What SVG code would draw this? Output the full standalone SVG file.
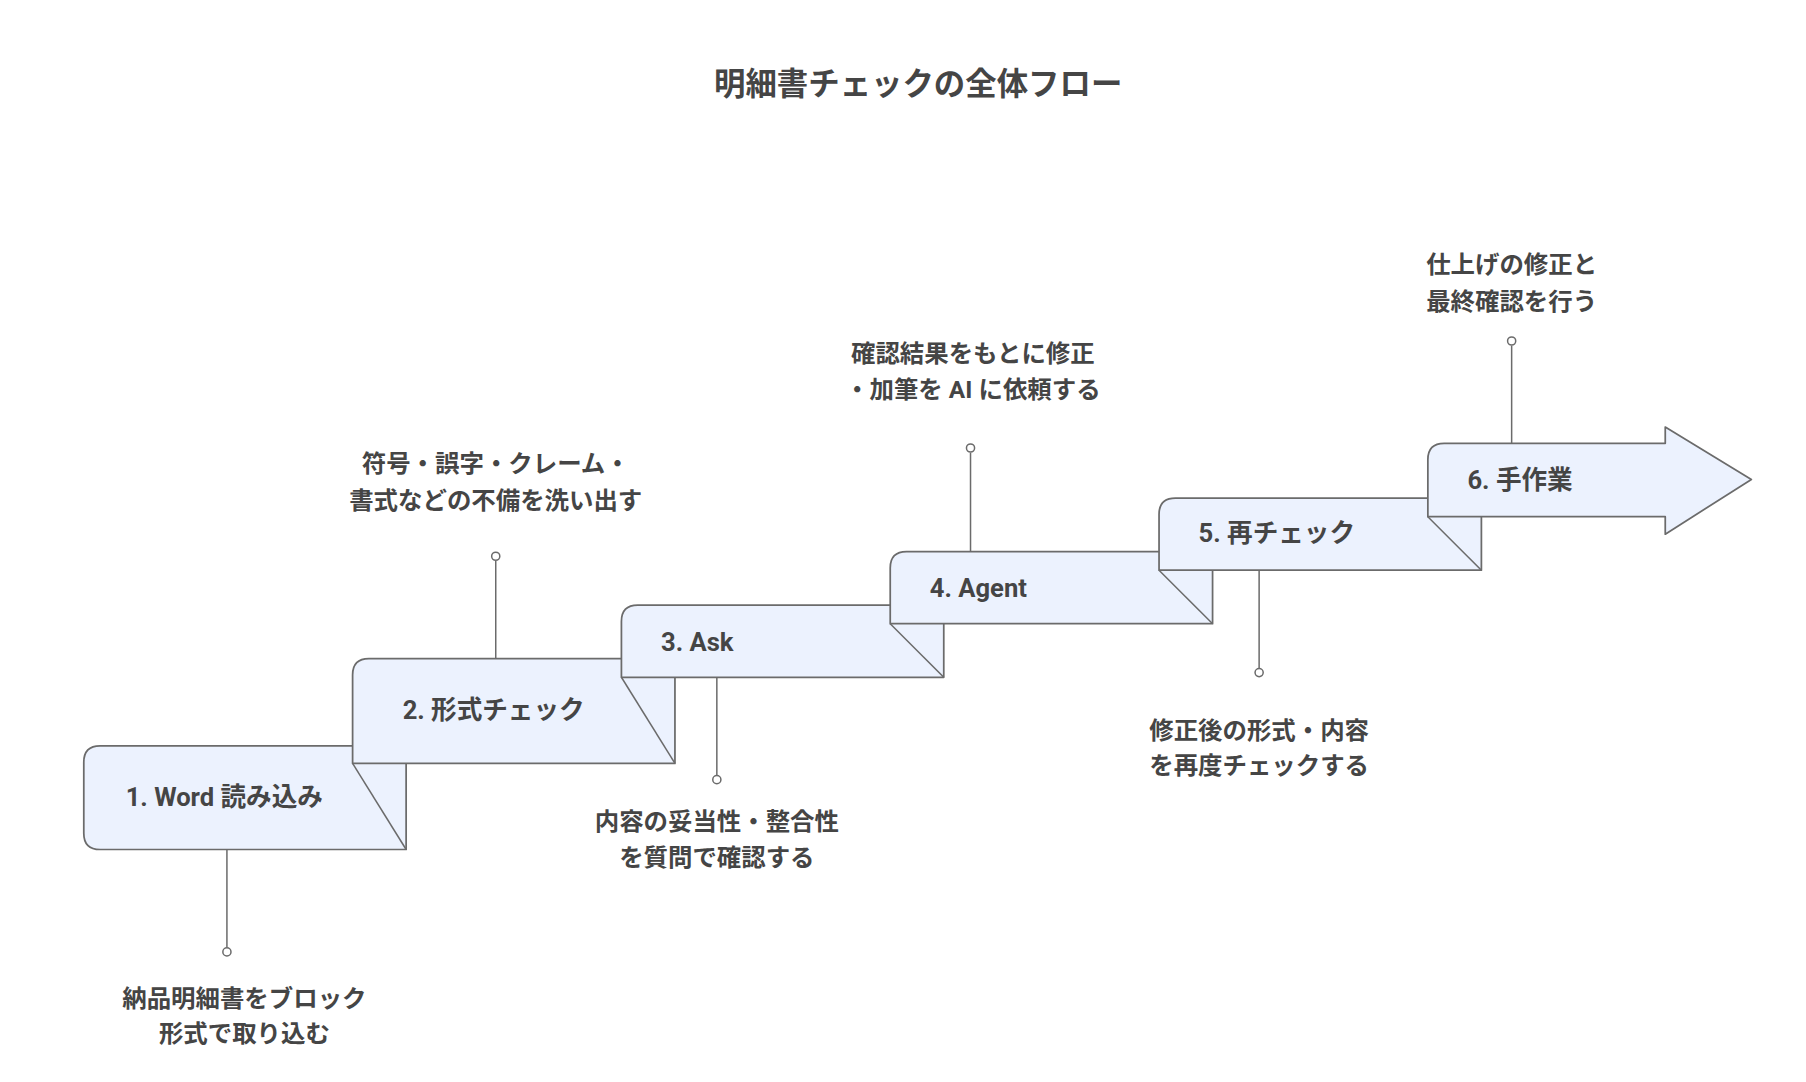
<svg xmlns="http://www.w3.org/2000/svg" width="1806" height="1082" viewBox="0 0 1806 1082">
<style>
.box{fill:#ecf2fe;stroke:#6b6b6b;stroke-width:1.5;stroke-linejoin:round}
.t{font-family:"Roboto","Noto Sans CJK JP",sans-serif;font-weight:bold;fill:#454545}
.n{font-size:22px}
.l{font-size:21px;text-anchor:middle}
.c{stroke:#6b6b6b;stroke-width:1.3;fill:none}
.d{fill:#fff;stroke:#6b6b6b;stroke-width:1.3}
</style>
<rect width="1806" height="1082" fill="#fff"/>
<g transform="scale(1.1637)">
<text class="t" x="789" y="82" font-size="27" text-anchor="middle">明細書チェックの全体フロー</text>
<g id="n1"><path class="box" d="M303,641H86Q72,641 72,655V716Q72,730 86,730H349V656"/><line class="c" x1="303" y1="656" x2="349" y2="730"/><text class="t n" x="108" y="693">1. Word 読み込み</text></g>
<g id="n2"><path class="box" d="M534,566H317Q303,566 303,580V656H580V582"/><line class="c" x1="534" y1="582" x2="580" y2="656"/><text class="t n" x="346" y="618">2. 形式チェック</text></g>
<g id="n3"><path class="box" d="M765,520H548Q534,520 534,534V582H811V536"/><line class="c" x1="765" y1="536" x2="811" y2="582"/><text class="t n" x="568" y="559">3. Ask</text></g>
<g id="n4"><path class="box" d="M996,474H779Q765,474 765,488V536H1042V490"/><line class="c" x1="996" y1="490" x2="1042" y2="536"/><text class="t n" x="799" y="513">4. Agent</text></g>
<g id="n5"><path class="box" d="M1227,428H1010Q996,428 996,442V490H1273V444"/><line class="c" x1="1227" y1="444" x2="1273" y2="490"/><text class="t n" x="1030" y="466">5. 再チェック</text></g>
<g id="n6"><path class="box" d="M1431,381H1241Q1227,381 1227,395V444H1431V459L1505,412L1431,367Z"/><text class="t n" x="1261" y="420">6. 手作業</text></g>
<g id="connectors">
<line class="c" x1="195" y1="730" x2="195" y2="814"/><circle class="d" cx="195" cy="818" r="3.5"/>
<line class="c" x1="426" y1="482" x2="426" y2="566"/><circle class="d" cx="426" cy="478" r="3.5"/>
<line class="c" x1="616" y1="582" x2="616" y2="666"/><circle class="d" cx="616" cy="670" r="3.5"/>
<line class="c" x1="834" y1="389" x2="834" y2="474"/><circle class="d" cx="834" cy="385" r="3.5"/>
<line class="c" x1="1082" y1="490" x2="1082" y2="574"/><circle class="d" cx="1082" cy="578" r="3.5"/>
<line class="c" x1="1299" y1="297" x2="1299" y2="381"/><circle class="d" cx="1299" cy="293" r="3.5"/>
</g>
<g id="labels">
<text class="t l" x="210" y="865">納品明細書をブロック</text><text class="t l" x="210" y="895">形式で取り込む</text>
<text class="t l" x="426" y="406">符号・誤字・クレーム・</text><text class="t l" x="426" y="437">書式などの不備を洗い出す</text>
<text class="t l" x="616" y="713">内容の妥当性・整合性</text><text class="t l" x="616" y="744">を質問で確認する</text>
<text class="t l" x="836" y="311">確認結果をもとに修正</text><text class="t l" x="836" y="342">・加筆を AI に依頼する</text>
<text class="t l" x="1082" y="635">修正後の形式・内容</text><text class="t l" x="1082" y="665">を再度チェックする</text>
<text class="t l" x="1299" y="235">仕上げの修正と</text><text class="t l" x="1299" y="266">最終確認を行う</text>
</g>
</g>
</svg>
